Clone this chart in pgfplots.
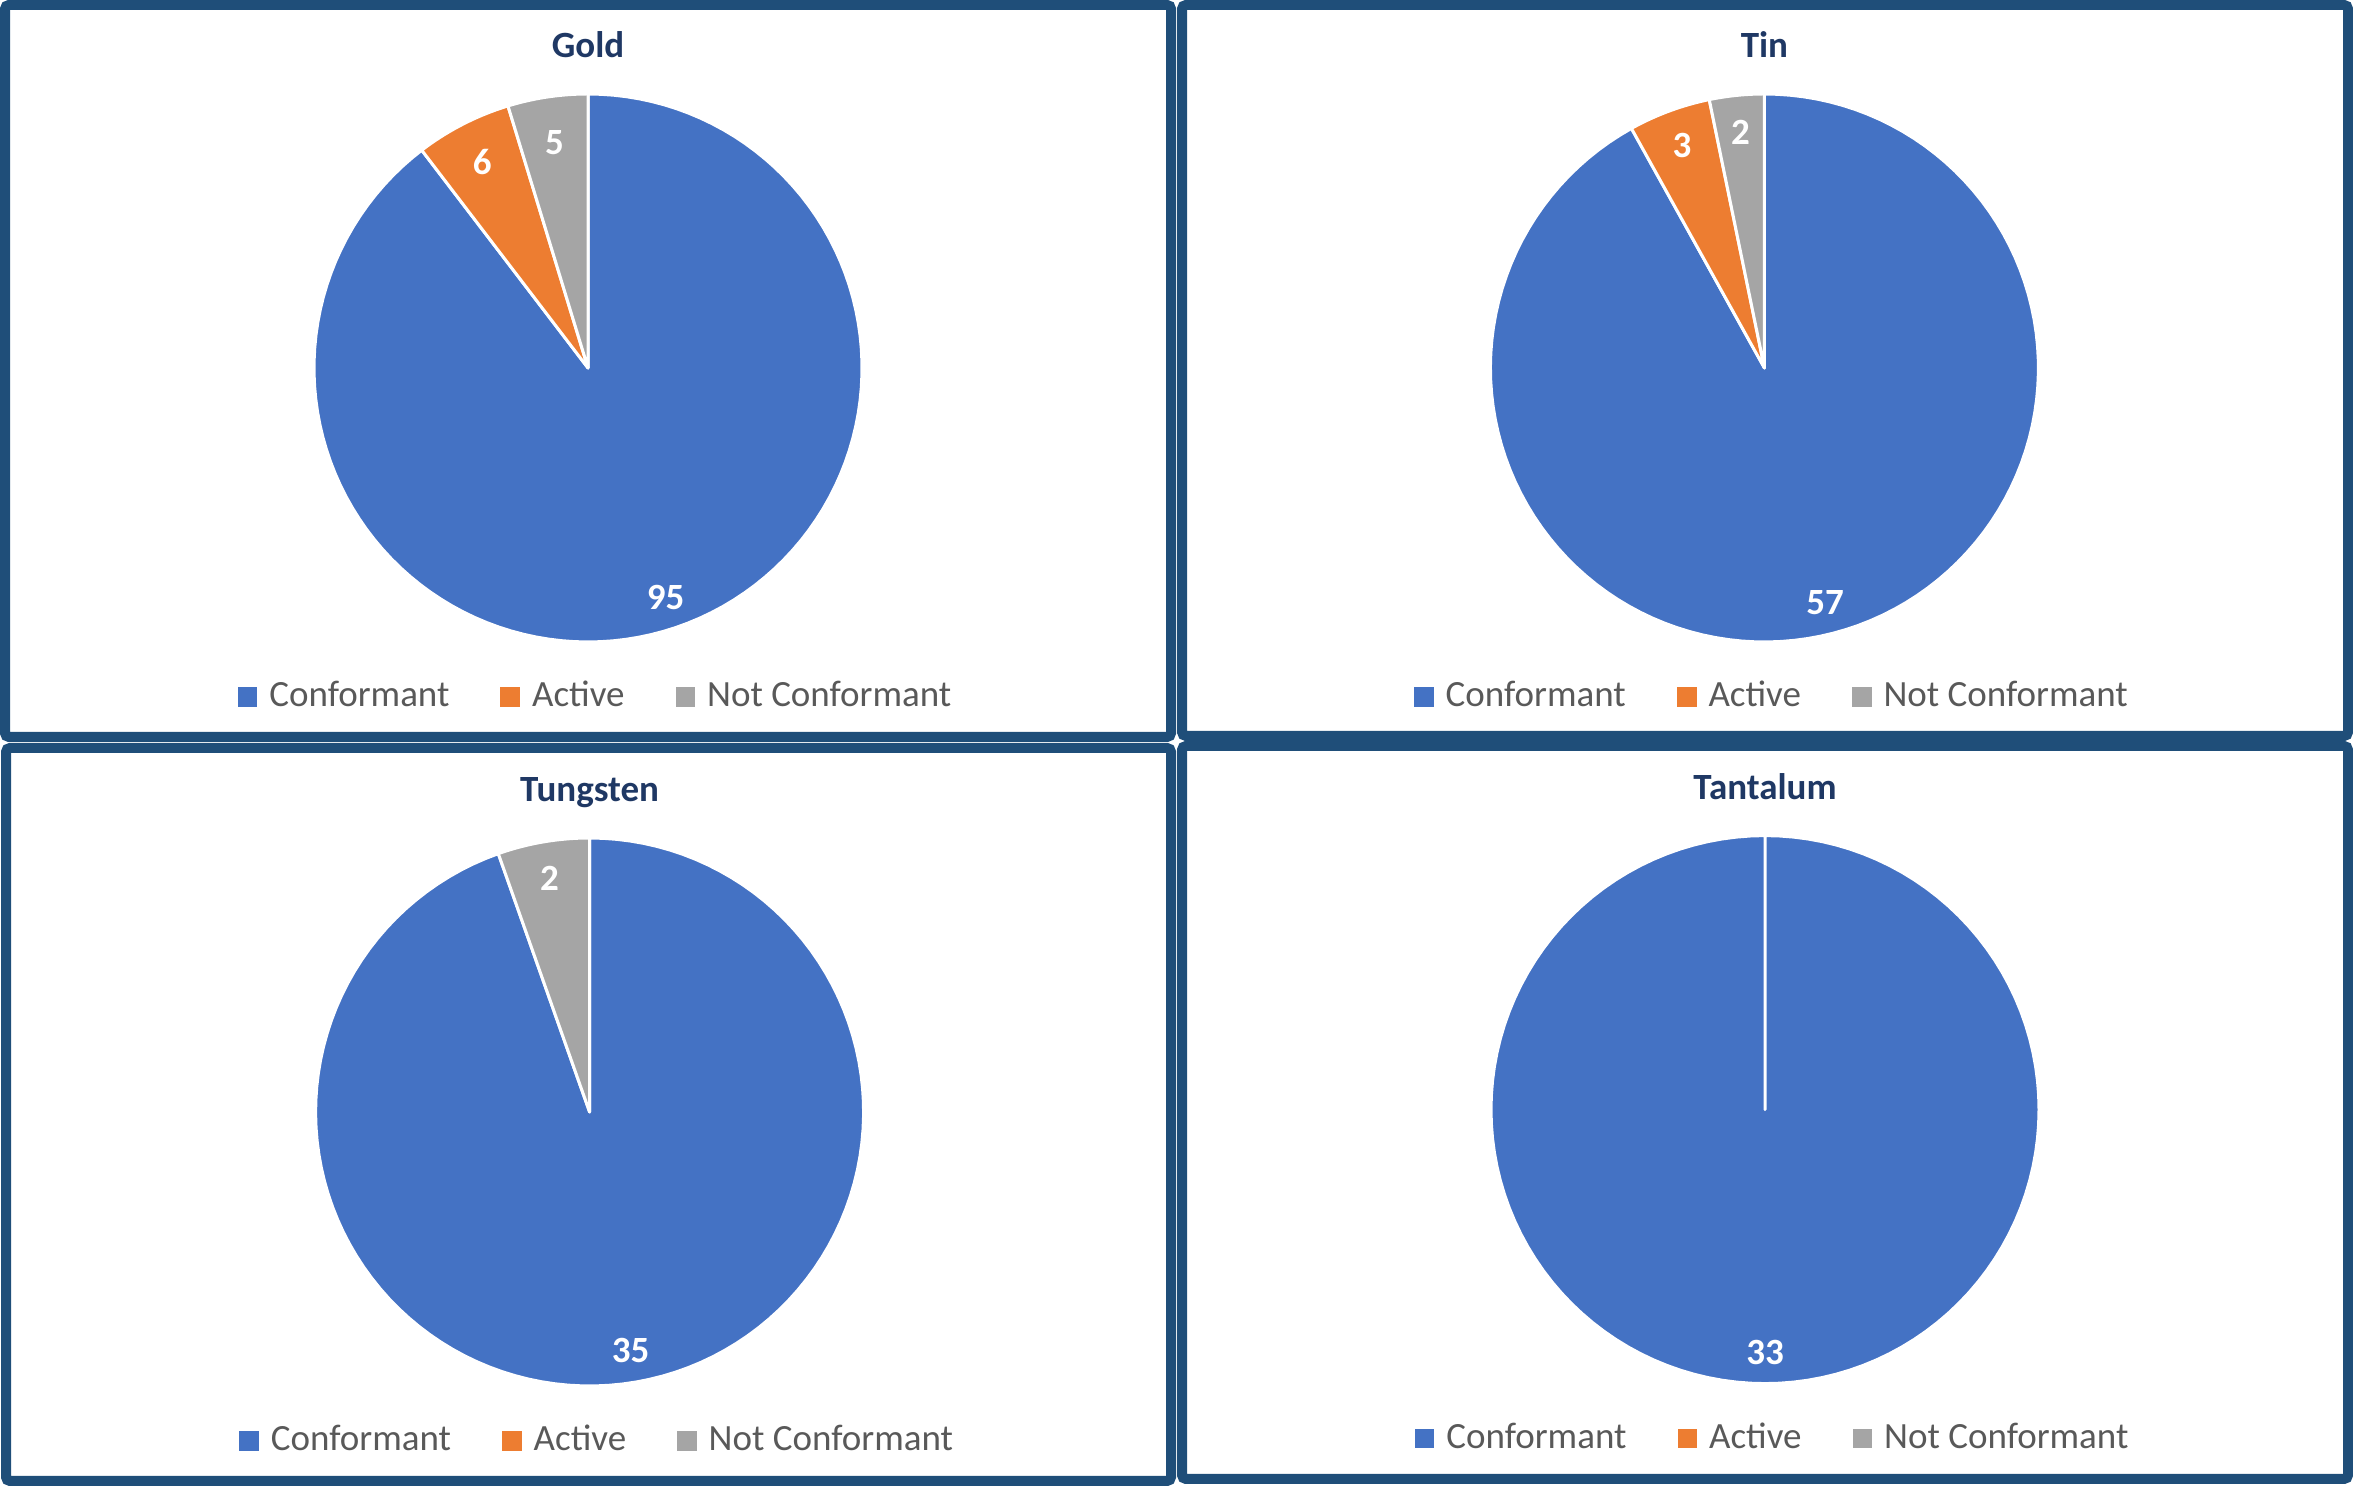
\documentclass[border=0pt]{standalone}
\usepackage{fontspec}
\setmainfont{Carlito}
\usepackage{pgfplots}
\pgfplotsset{compat=1.18}

\definecolor{cConf}{HTML}{4472C4}
\definecolor{cAct}{HTML}{ED7D31}
\definecolor{cNot}{HTML}{A5A5A5}
\definecolor{panel}{HTML}{1F4E79}
\definecolor{ttl}{HTML}{1F3864}
\definecolor{lgd}{HTML}{595959}

\newcommand{\fs}{\fontsize{9.25}{11}\selectfont}

% one wedge: [#1] = label radius, #2 = sum of the slices before, #3 = value,
% #4 = total, #5 = colour
\newcommand{\pieslice}[5][0.865]{%
  \pgfmathsetmacro\aS{90-#2/#4*360}%
  \pgfmathsetmacro\aE{90-(#2+#3)/#4*360}%
  \pgfmathsetmacro\lx{#1*cos((\aS+\aE)/2)}%
  \pgfmathsetmacro\ly{#1*sin((\aS+\aE)/2)}%
  \edef\doslice{%
    \noexpand\addplot[forget plot, fill=#5, draw=white, line width=0.75pt,
      line join=round, domain=\aE:\aS, samples=121, variable=\noexpand\t]
      ({cos(\noexpand\t)}, {sin(\noexpand\t)}) -- (axis cs:0,0) -- cycle;
    \noexpand\node[font=\noexpand\fs\noexpand\bfseries, text=white]
      at (axis cs:\lx,\ly) {#3};
  }\doslice
}

\newcommand{\pielegend}{%
  \addlegendimage{cConf}\addlegendentry{Conformant}
  \addlegendimage{cAct}\addlegendentry{Active}
  \addlegendimage{cNot}\addlegendentry{Not Conformant}
}

\pgfplotsset{
  pie/.style={
    hide axis, scale only axis, width=137pt, height=137pt,
    xmin=-1, xmax=1, ymin=-1, ymax=1, clip=false, anchor=center,
    every axis title shift=0pt,
    title style={at={(0.5,1.066)}, anchor=base, font=\fs\bfseries, text=ttl},
    legend columns=3,
    legend style={at={(0.512,-0.1005)}, anchor=center, draw=none, fill=none,
      font=\fs, text=lgd, nodes={inner xsep=0pt, inner ysep=1pt},
      /tikz/every odd column/.append style={column sep=3pt},
      /tikz/every even column/.append style={column sep=12.75pt}},
    legend image code/.code={\fill[##1] (0pt,-2.25pt) rectangle (4.5pt,2.25pt);},
  },
}

\begin{document}
\begin{tikzpicture}
\useasboundingbox (0,0) rectangle (588.25pt,371.5pt);

% Gold
\begin{axis}[pie, at={(147pt,279.5pt)}, title={Gold}]
  \pieslice[0.885]{0}{95}{106}{cConf}
  \pieslice[0.845]{95}{6}{106}{cAct}
  \pieslice[0.83]{101}{5}{106}{cNot}
  \pielegend
\end{axis}

% Tin
\begin{axis}[pie, at={(441.1pt,279.5pt)}, title={Tin}]
  \pieslice[0.885]{0}{57}{62}{cConf}
  \pieslice{57}{3}{62}{cAct}
  \pieslice{60}{2}{62}{cNot}
  \pielegend
\end{axis}

% Tungsten
\begin{axis}[pie, at={(147.4pt,93.5pt)}, title={Tungsten}]
  \pieslice[0.885]{0}{35}{37}{cConf}
  \pieslice{35}{2}{37}{cNot}
  \pielegend
\end{axis}

% Tantalum
\begin{axis}[pie, at={(441.25pt,94.1pt)}, title={Tantalum}]
  \pieslice[0.885]{0}{33}{33}{cConf}
  \pielegend
\end{axis}

% panel frames
\begin{scope}[draw=panel, line width=2.5pt, rounded corners=1pt]
  \draw (1.25pt,187.25pt) rectangle (292.75pt,370.25pt);
  \draw (295.5pt,187.5pt) rectangle (587pt,370.25pt);
  \draw (1.5pt,1.25pt) rectangle (292.75pt,184.5pt);
  \draw (295.5pt,1.75pt) rectangle (587pt,185pt);
\end{scope}
\end{tikzpicture}
\end{document}
